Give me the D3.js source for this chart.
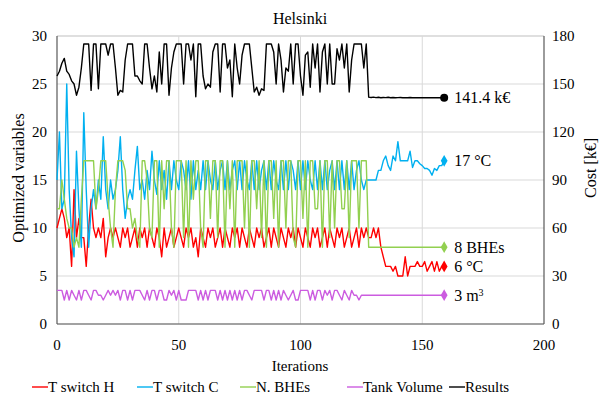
<!DOCTYPE html>
<html><head><meta charset="utf-8">
<script src="https://cdn.jsdelivr.net/npm/d3@7/dist/d3.min.js"></script>
<style>body{margin:0;background:#fff}svg{display:block}</style>
</head><body><svg id="c" width="603" height="394" font-family="'Liberation Serif', 'DejaVu Serif', serif"></svg>
<script>
const title = "Helsinki";
const xTicks = [0, 50, 100, 150, 200];
const yLeftTicks = [0, 5, 10, 15, 20, 25, 30];
const yRightTicks = [0, 30, 60, 90, 120, 150, 180];

const tSwitchH = [
10,11,12,11,9,10,6,14,9,11,
9,9,6,10,13,10,9,10,9,11,
7,9,10,9,10,9,8,10,9,10,
8,9,10,8,10,9,10,8,10,9,
8,10,9,7,10,8,9,10,8,9,
10,9,8,10,9,10,8,9,7,10,
9,8,10,9,10,8,9,10,8,10,
9,8,10,9,10,8,10,9,8,10,
9,8,10,9,10,8,9,10,8,10,
9,8,10,9,8,10,9,10,8,10,
9,8,10,9,8,10,9,10,8,9,
10,8,10,9,8,10,9,10,8,9,
10,8,9,10,8,10,9,10,
9,9,10,9,10,8,7,6,6,6,
5.5,6,5,5,5,7,5,6,6,6,
6.5,6,6,6.5,5.5,6,6.5,5.5,6.5,5.5,6,6];

const tSwitchC = [
15,20,12,13,25,14,9,7,18,12,
8,22,14,8,12,14,12,15,13,19.5,
14,12,15,13,14,16,19.5,14,11,13,
14,13,16,18.5,14,15,13,16,14,18,
15,13.5,17,14,16,13,17,14,17,15,
14,17,16,14,17,13,17,14,16,14,
17,14,17,15,14,17,14,16,17,14,
17,14,16,17,14,17,14,17,15,14,
17,14,17,14,16,17,14,17,14,17,
15,14,17,14,17,14,17,16,14,17,
14,17,14,17,15,14,17,14,17,14,
17,14,16,17,14,17,14,17,14,17,
14,17,14,16,17,15,14,15,
15,15,15,15,16,16,17,17.5,16.5,16,
17.5,17,19,17,17,17,17,18,16.3,17,
17,16.7,16.5,16.2,16.2,16,15.5,16.2,16,16.5,16.5,17];

const nBHEs = [
12,12,15,13,11,10,10,8,9,8,
13,17,17,17,17,17,12,14,17,17,
17,13,10,8,14,17,17,17,16,12,
12,10,11,9,8,17,17,15,10,9,
17,17,8,17,12,17,17,10,8,17,
17,17,9,17,8,17,13,17,17,10,
8,17,17,11,17,17,9,17,17,8,
17,12,17,8,17,17,17,10,17,8,
17,17,12,17,9,17,8,17,17,11,
17,8,17,17,10,17,17,9,8,17,
17,11,17,8,17,17,12,12,17,8,
17,17,9,17,10,17,17,12,12,17,
9,17,17,17,10,17,17,17,
8,8,8,8,8,8,8,8,8,8,
8,8,8,8,8,8,8,8,8,8,
8,8,8,8,8,8,8,8,8,8,8,8];

const tankVolume = [
3.5,3.5,3.5,2.5,3.5,2.5,3.5,3,2.5,3.5,
2.5,3.5,3.5,3,2.5,3.5,3.5,3,3,2.5,
3,3.5,3,3.5,3,3.5,2.5,3.5,3.5,2.5,
3.5,2.5,3.5,3.5,3.5,3,2.5,3.5,2.5,3.5,
3.5,2.5,3.5,3.5,2.5,2.5,3.5,3,3.5,2.5,
3.5,2.5,2.5,2.5,3.5,3.5,3.5,3.5,2.5,3.5,
2.5,3.5,2.5,3.5,3.5,3.5,2.5,3.5,2.5,3.5,
2.5,3.5,2.5,3.5,2.5,3.5,2.5,3.5,3.5,3,
2.5,3.5,3.5,3.5,3.5,2.5,3.5,3.5,2.5,3.5,
2.5,3.5,2.5,3.5,3,2.5,3,3.5,2.5,2.5,
3.5,3.5,3.5,3.5,2.5,3.5,2.5,3.5,3.5,2.5,
3.5,3,3.5,2.5,3.5,3.5,3,2.5,3.5,3,
2.5,3.5,3,3,2.5,3,3,3,
3,3,3,3,3,3,3,3,3,3,
3,3,3,3,3,3,3,3,3,3,
3,3,3,3,3,3,3,3,3,3,3,3];

const results = [
155,158,163,166,158,156,152,150,143,148,
160,175,175,175,146,175,175,147,175,175,
175,168,175,175,160,143,146,145,165,175,
175,175,155,155,152,150,175,175,160,147,
155,145,170,150,175,175,143,160,170,175,
175,175,150,175,175,165,175,142,175,175,
155,147,150,148,170,175,175,145,175,175,
160,165,142,175,160,150,168,175,175,175,
160,145,148,143,147,146,175,175,175,170,
150,175,165,145,160,158,175,150,175,175,
155,143,168,170,148,175,160,175,145,170,
175,150,175,150,150,172,165,175,160,175,
145,165,175,175,175,175,160,175,
141.8,141.6,141.8,141.5,141.7,141.4,141.6,141.5,141.7,141.4,
141.6,141.4,141.5,141.6,141.4,141.5,141.4,141.6,141.4,141.5,
141.4,141.5,141.4,141.4,141.5,141.4,141.4,141.4,141.4,141.4,141.4,141.4];

const seriesNames = ["T switch H", "T switch C", "N. BHEs", "Tank Volume", "Results"];
const endLabels = ["141.4 k€", "17 °C", "8 BHEs", "6 °C", "3 m³"];
const colors = {"T switch H":"#ff0000","T switch C":"#00b0f0","N. BHEs":"#92d050","Tank Volume":"#cc5ce0","Results":"#000000"};

const svg = d3.select("#c");
const m = {l:57, r:544, t:36, b:324};
const x = d3.scaleLinear().domain([0,200]).range([m.l, m.r]);
const yL = d3.scaleLinear().domain([0,30]).range([m.b, m.t]);
const yR = d3.scaleLinear().domain([0,180]).range([m.b, m.t]);

// gridlines
svg.append("g").selectAll("line").data(yLeftTicks).join("line")
  .attr("x1", m.l).attr("x2", m.r).attr("y1", d=>yL(d)).attr("y2", d=>yL(d))
  .attr("stroke", d=> d===30 ? "#bfbfbf" : "#d9d9d9").attr("stroke-width",1);
svg.append("g").selectAll("line").data(xTicks.slice(1,-1)).join("line")
  .attr("y1", m.t).attr("y2", m.b).attr("x1", d=>x(d)).attr("x2", d=>x(d))
  .attr("stroke", "#d9d9d9").attr("stroke-width",1);

// axes lines
const ax = svg.append("g").attr("stroke","#595959").attr("stroke-width",1.2);
ax.append("line").attr("x1",m.l).attr("x2",m.l).attr("y1",m.t).attr("y2",m.b);
ax.append("line").attr("x1",m.r).attr("x2",m.r).attr("y1",m.t).attr("y2",m.b);
ax.append("line").attr("x1",m.l).attr("x2",m.r).attr("y1",m.b).attr("y2",m.b);

// tick labels
svg.append("g").selectAll("text").data(yLeftTicks).join("text")
  .attr("x", m.l-10).attr("y", d=>yL(d)).attr("dy","0.35em").attr("text-anchor","end")
  .attr("font-size",15).text(d=>d);
svg.append("g").selectAll("text").data(yRightTicks).join("text")
  .attr("x", m.r+8).attr("y", d=>yR(d)).attr("dy","0.35em").attr("text-anchor","start")
  .attr("font-size",15).text(d=>d);
svg.append("g").selectAll("text").data(xTicks).join("text")
  .attr("x", d=>x(d)).attr("y", 345).attr("dy","0.35em").attr("text-anchor","middle")
  .attr("font-size",15).text(d=>d);

// titles
svg.append("text").attr("x",300).attr("y",18).attr("dy","0.35em").attr("text-anchor","middle").attr("font-size",16).text(title);
svg.append("text").attr("x",300).attr("y",366).attr("dy","0.35em").attr("text-anchor","middle").attr("font-size",15).text("Iterations");
svg.append("text").attr("transform","translate(18,178) rotate(-90)").attr("dy","0.35em").attr("text-anchor","middle").attr("font-size",16).text("Optimized variables");
svg.append("text").attr("transform","translate(590,168) rotate(-90)").attr("dy","0.35em").attr("text-anchor","middle").attr("font-size",16).text("Cost [k€]");

// series (Excel series order: later series on top)
const dataMap = {"T switch H":tSwitchH,"T switch C":tSwitchC,"N. BHEs":nBHEs,"Tank Volume":tankVolume,"Results":results};
const drawOrder = ["T switch H","T switch C","N. BHEs","Tank Volume","Results"];
const plot = svg.append("g");
drawOrder.forEach(name=>{
  const arr = dataMap[name];
  const ys = name==="Results" ? yR : yL;
  const line = d3.line().x((d,i)=>x(i)).y(d=>ys(d));
  plot.append("path").datum(arr).attr("d", line).attr("fill","none")
    .attr("stroke", colors[name]).attr("stroke-width",1.4).attr("stroke-linejoin","round");
});

// end markers + labels
const ends = [
  {name:"Results", label:endLabels[0]},
  {name:"T switch C", label:endLabels[1]},
  {name:"N. BHEs", label:endLabels[2]},
  {name:"T switch H", label:endLabels[3]},
  {name:"Tank Volume", label:endLabels[4]}
];
ends.forEach(e=>{
  const arr = dataMap[e.name];
  const ys = e.name==="Results" ? yR : yL;
  const i = arr.length-1;
  const cx = x(i), cy = ys(arr[i]);
  if (e.name==="Results") {
    svg.append("circle").attr("cx",cx).attr("cy",cy).attr("r",4).attr("fill","#000");
  } else {
    svg.append("path").attr("d", d3.symbol(d3.symbolDiamond, 40)()).attr("transform",`translate(${cx},${cy})`).attr("fill",colors[e.name]);
  }
  const t = svg.append("text").attr("x", cx+10).attr("y", cy).attr("dy","0.35em").attr("font-size",16);
  if (e.name==="Tank Volume") {
    t.text("3 m");
    t.append("tspan").attr("font-size",10).attr("dy","-0.5em").text("3");
  } else t.text(e.label);
});

// legend
const legX = [32, 137, 240, 347, 449];
const lg = svg.append("g");
seriesNames.forEach((n,k)=>{
  lg.append("line").attr("x1",legX[k]).attr("x2",legX[k]+16).attr("y1",387).attr("y2",387).attr("stroke",colors[n]).attr("stroke-width",1.4);
  lg.append("text").attr("x",legX[k]+16).attr("y",387).attr("dy","0.35em").attr("font-size",15).text(n);
});
</script></body></html>
